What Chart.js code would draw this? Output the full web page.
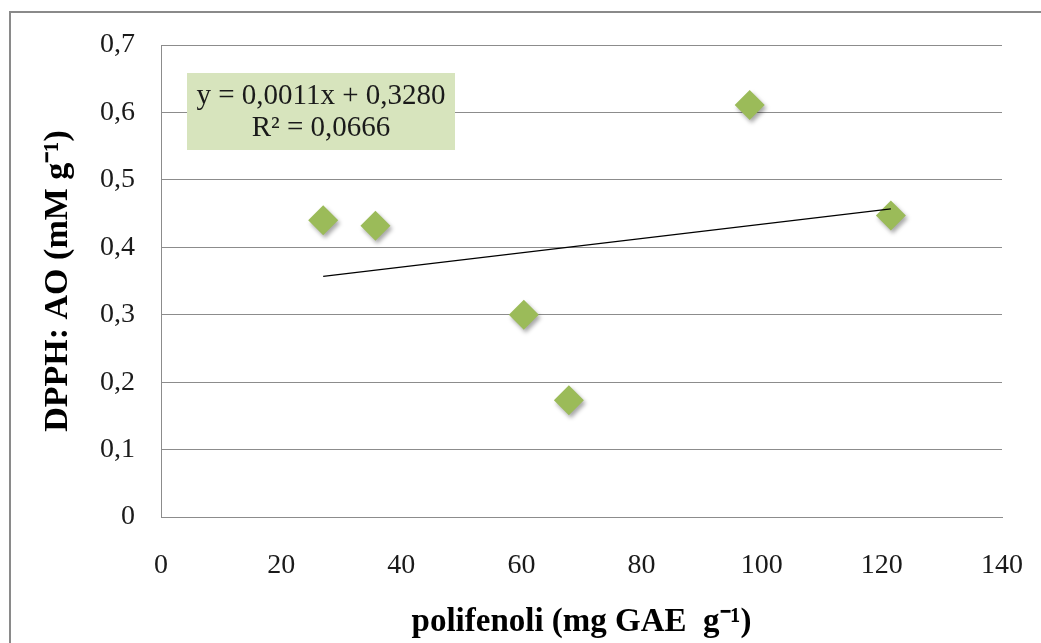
<!DOCTYPE html>
<html>
<head>
<meta charset="utf-8">
<script src="https://cdn.jsdelivr.net/npm/chart.js@4.4.0/dist/chart.umd.min.js"></script>
<style>
  html, body { margin: 0; padding: 0; background: #fff; }
  #wrap { width: 1041px; height: 643px; }
</style>
</head>
<body>
<div id="wrap"><canvas id="myChart" width="1041" height="643"></canvas></div>
<script>
// Data
const polifenoli = [27, 35.7, 60.4, 67.9, 98, 121.5];
const dpph = [0.44, 0.432, 0.30, 0.173, 0.611, 0.447];
// trendline ends (linear fit, as drawn)
const trendX = [27, 121.5];
const trendY = [0.357, 0.457];
const eqLines = ['y = 0,0011x + 0,3280', 'R\u00B2 = 0,0666'];

const FONT = '"Liberation Serif", "Times New Roman", serif';

const points = polifenoli.map((x, i) => ({ x: x, y: dpph[i] }));
const trend = trendX.map((x, i) => ({ x: x, y: trendY[i] }));

// Outer frame (only top and left visible)
const framePlugin = {
  id: 'frame',
  beforeDraw(chart) {
    const ctx = chart.ctx;
    ctx.save();
    ctx.strokeStyle = '#8a8a8a';
    ctx.lineWidth = 2;
    ctx.beginPath();
    ctx.moveTo(10, 643);
    ctx.lineTo(10, 12);
    ctx.lineTo(1041, 12);
    ctx.stroke();
    ctx.restore();
  }
};

// Shadow behind the diamonds
const shadowPlugin = {
  id: 'shadow',
  beforeDatasetDraw(chart, args) {
    if (args.index !== 1) return;
    const ctx = chart.ctx;
    ctx.save();
    ctx.shadowColor = 'rgba(0,0,0,0.35)';
    ctx.shadowBlur = 4;
    ctx.shadowOffsetX = 2;
    ctx.shadowOffsetY = 3;
  },
  afterDatasetDraw(chart, args) {
    if (args.index !== 1) return;
    chart.ctx.restore();
  }
};

// Equation label box
const equationPlugin = {
  id: 'equation',
  afterDatasetsDraw(chart) {
    const ctx = chart.ctx;
    const a = chart.chartArea;
    const left = a.left + 26, top = 73, w = 268, h = 77;
    ctx.save();
    ctx.fillStyle = '#d7e4bd';
    ctx.fillRect(left, top, w, h);
    ctx.fillStyle = '#1a1a1a';
    ctx.font = '29px ' + FONT;
    ctx.textAlign = 'center';
    ctx.textBaseline = 'middle';
    ctx.fillText(eqLines[0], left + w / 2, top + 23);
    ctx.fillText(eqLines[1], left + w / 2, top + 55);
    ctx.restore();
  }
};

const ctx = document.getElementById('myChart').getContext('2d');

const chart = new Chart(ctx, {
  type: 'scatter',
  data: {
    datasets: [
      {
        label: 'trend',
        data: trend,
        showLine: true,
        borderColor: '#000',
        borderWidth: 1.2,
        pointRadius: 0,
        fill: false
      },
      {
        label: 'DPPH',
        data: points,
        pointStyle: 'rectRot',
        pointRadius: 15,
        pointHoverRadius: 15,
        backgroundColor: '#9bbb59',
        borderColor: '#9bbb59',
        borderWidth: 0
      }
    ]
  },
  options: {
    responsive: false,
    animation: false,
    devicePixelRatio: 1,
    layout: {
      padding: { left: 35, top: 45, right: 39, bottom: 0 }
    },
    plugins: {
      legend: { display: false },
      tooltip: { enabled: false }
    },
    scales: {
      x: {
        type: 'linear',
        min: 0,
        max: 140,
        ticks: {
          stepSize: 20,
          padding: 32,
          color: '#1a1a1a',
          font: { family: FONT, size: 28 }
        },
        grid: { display: false, drawTicks: false },
        border: { display: true, color: '#8c8c8c', width: 1 },
        title: {
          display: true,
          text: 'polifenoli (mg GAE  g\u207B\u00B9)',
          color: '#000',
          font: { family: FONT, size: 33, weight: 'bold' },
          padding: { top: 0, bottom: 1 }
        },
        afterFit(scale) {
          scale.height = 126;
          scale.paddingLeft = 0;
          scale.paddingRight = 0;
        }
      },
      y: {
        min: 0,
        max: 0.7,
        ticks: {
          stepSize: 0.1,
          padding: 26,
          color: '#1a1a1a',
          font: { family: FONT, size: 28 },
          callback: (v) => v === 0 ? '0' : v.toFixed(1).replace('.', ',')
        },
        grid: { color: '#8c8c8c', lineWidth: 1, drawTicks: false },
        border: { display: true, color: '#8c8c8c', width: 1 },
        title: {
          display: true,
          text: 'DPPH: AO (mM g\u207B\u00B9)',
          color: '#000',
          font: { family: FONT, size: 34, weight: 'bold' },
          padding: { top: 3, bottom: 3 }
        },
        afterFit(scale) {
          scale.width = 126;
          scale.paddingTop = 0;
          scale.paddingBottom = 0;
        }
      }
    }
  },
  plugins: [framePlugin, shadowPlugin, equationPlugin]
});
</script>
</body>
</html>
